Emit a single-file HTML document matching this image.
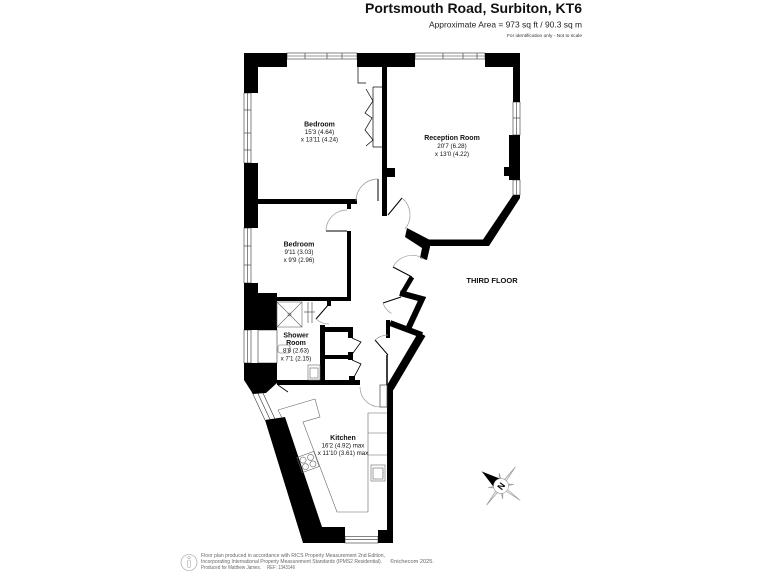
<!DOCTYPE html>
<html>
<head>
<meta charset="utf-8">
<style>
html,body{margin:0;padding:0;background:#fff;}
svg{display:block;}
text{font-family:"Liberation Sans",Arial,sans-serif;}
</style>
</head>
<body>
<svg width="768" height="576" viewBox="0 0 768 576" xmlns="http://www.w3.org/2000/svg">
<rect width="768" height="576" fill="#fff"/>

<!-- Header -->
<text x="582" y="13" text-anchor="end" font-size="14" font-weight="bold" fill="#111">Portsmouth Road, Surbiton, KT6</text>
<text x="582" y="27.7" text-anchor="end" font-size="8.4" fill="#222" textLength="153" lengthAdjust="spacingAndGlyphs">Approximate Area = 973 sq ft / 90.3 sq m</text>
<text x="582" y="37" text-anchor="end" font-size="4.6" fill="#333" textLength="75" lengthAdjust="spacingAndGlyphs">For identification only - Not to scale</text>

<!-- Windows -->
<g fill="#fff" stroke="#333" stroke-width="0.6">
  <rect x="287" y="53" width="70" height="6"/>
  <line x1="287" y1="56" x2="357" y2="56"/>
  <line x1="305" y1="53" x2="305" y2="59"/><line x1="327" y1="53" x2="327" y2="59"/><line x1="342" y1="53" x2="342" y2="59"/>
  <rect x="415" y="53" width="70" height="6"/>
  <line x1="415" y1="56" x2="485" y2="56"/>
  <line x1="443" y1="53" x2="443" y2="59"/><line x1="463" y1="53" x2="463" y2="59"/><line x1="477" y1="53" x2="477" y2="59"/>
  <rect x="244" y="93" width="7" height="70"/>
  <line x1="247.5" y1="93" x2="247.5" y2="163"/>
  <line x1="244" y1="110" x2="251" y2="110"/><line x1="244" y1="133" x2="251" y2="133"/><line x1="244" y1="150" x2="251" y2="150"/>
  <rect x="244" y="228" width="7" height="55"/>
  <line x1="247.5" y1="228" x2="247.5" y2="283"/>
  <line x1="244" y1="246" x2="251" y2="246"/><line x1="244" y1="265" x2="251" y2="265"/>
  <rect x="244" y="330" width="7" height="33"/>
  <line x1="247.5" y1="330" x2="247.5" y2="363"/>
  <rect x="258" y="330" width="19" height="33"/>
  <rect x="513" y="102" width="7" height="33"/>
  <line x1="516.5" y1="102" x2="516.5" y2="135"/>
  <line x1="513" y1="118" x2="520" y2="118"/>
  <rect x="513" y="180" width="7" height="15"/>
  <line x1="516.5" y1="180" x2="516.5" y2="195"/>
  <rect x="345" y="536.5" width="33" height="6.5"/>
  <line x1="345" y1="539.7" x2="378" y2="539.7"/>
  <line x1="252" y1="392" x2="265" y2="420"/>
  <line x1="257" y1="391.5" x2="270" y2="419.5"/>
  <line x1="262" y1="391" x2="275" y2="419"/>
</g>

<!-- Walls -->
<g fill="#000">
  <rect x="244" y="53" width="43" height="14"/>
  <rect x="244" y="53" width="14" height="40"/>
  <rect x="357" y="53" width="58" height="14"/>
  <rect x="485" y="53" width="35" height="14"/>
  <rect x="513" y="53" width="7" height="49"/>
  <rect x="509" y="135" width="11" height="45"/>
  <rect x="504" y="167" width="16" height="9"/>
  <polygon points="513,195 520,195 520,198 489,246 428,246 428,239.5 483,239.5"/>
  <polygon points="407,228 430,240 430,247 427,260 420,258 422,248 405,237"/>
  <rect x="382" y="67" width="5" height="149"/>
  <rect x="387" y="168" width="8" height="9"/>
  <rect x="258" y="199" width="99" height="5"/>
  <rect x="347" y="199" width="4" height="10"/>
  <rect x="347" y="231" width="4" height="70"/>
  <rect x="258" y="297" width="93" height="4"/>
  <rect x="244" y="163" width="14" height="65"/>
  <rect x="244" y="283" width="14" height="12"/>
  <rect x="244" y="293" width="33" height="37"/>
  <polygon points="244,363 277,363 277,383 266,393 253,394 244,380"/>
  <rect x="277" y="380" width="83" height="5"/>
  <rect x="320" y="325" width="5" height="58"/>
  <rect x="320" y="327" width="33" height="5"/>
  <rect x="320" y="355" width="33" height="4"/>
  <rect x="348" y="327" width="5" height="11"/>
  <rect x="348" y="352" width="5" height="8"/>
  <rect x="349" y="376" width="6" height="5"/>
  <rect x="327" y="300" width="4" height="6"/>
  <rect x="387" y="386" width="6" height="157"/>
  <rect x="378" y="530" width="15" height="13"/>
  <polygon points="265,420 285,417 322,527 345,527 345,543 303,543"/>
</g>
<g fill="none" stroke="#000" stroke-linejoin="miter">
  <line x1="412" y1="277" x2="402" y2="294" stroke-width="5"/>
  <polyline points="400,293 422,299 408,329" stroke-width="6"/>
  <line x1="390" y1="323" x2="422" y2="335" stroke-width="6"/>
  <line x1="422" y1="334" x2="390" y2="388" stroke-width="8"/>
  <line x1="388" y1="320" x2="388" y2="338" stroke-width="4"/>
  <line x1="387" y1="355" x2="387" y2="385" stroke-width="1.5"/>
</g>

<!-- Doors -->
<g fill="none" stroke="#555" stroke-width="0.7">
  <line x1="388" y1="215" x2="402" y2="198" stroke="#000" stroke-width="1"/>
  <path d="M402,198 A22,22 0 0,1 405,229" stroke="#999"/>
  <line x1="378" y1="201" x2="378" y2="179" stroke="#000" stroke-width="1"/>
  <path d="M378,179 A22,22 0 0,0 356,201" stroke="#999"/>
  <line x1="326" y1="231" x2="347" y2="231" stroke="#000" stroke-width="1"/>
  <path d="M326,231 A21,21 0 0,1 347,210" stroke="#999"/>
  <line x1="412" y1="277" x2="393" y2="267" stroke="#000" stroke-width="1"/>
  <path d="M393,267 A21.5,21.5 0 0,1 424,259" stroke="#999"/>
  <line x1="401" y1="297" x2="383" y2="303" stroke="#000" stroke-width="1"/>
  <path d="M383,303 A19,19 0 0,0 391.5,313.5" stroke="#999"/>
  <line x1="388" y1="355" x2="375" y2="340" stroke="#000" stroke-width="1"/>
  <path d="M375,340 A20,20 0 0,1 388,335" stroke="#999"/>
  <rect x="380" y="385" width="7" height="22" fill="#fff" stroke="#444"/>
  <path d="M360,387 A20,20 0 0,0 380,407" stroke="#999"/>
  <line x1="329" y1="304" x2="316" y2="319" stroke="#000" stroke-width="1"/>
  <path d="M316,319 A20,20 0 0,0 329,324" stroke="#999"/>
  <polyline points="352,338 361,342 353,353" stroke="#000" stroke-width="0.8"/>
  <polyline points="352,360 361,364 353,379" stroke="#000" stroke-width="0.8"/>
  <line x1="278" y1="385" x2="288" y2="392" stroke="#000" stroke-width="0.8"/>
  <!-- Wardrobe -->
  <polyline points="358,67 358,83 366,83" stroke="#000"/>
  <line x1="373" y1="87" x2="383" y2="87" stroke="#000"/>
  <line x1="373" y1="147" x2="383" y2="147" stroke="#000"/>
  <line x1="373" y1="87" x2="373" y2="147" stroke="#000"/>
  <polyline points="366,89 373,101 365,113 372,118 365,130 373,140 366,146" stroke="#000"/>
  <!-- Shower screen lines -->
  <line x1="308" y1="302" x2="308" y2="323"/>
  <line x1="312" y1="302" x2="312" y2="323"/>
  <line x1="304" y1="312" x2="315" y2="312"/>
</g>

<!-- Fixtures -->
<g fill="none" stroke="#666" stroke-width="0.6">
  <rect x="277" y="302" width="25" height="25" fill="#fff"/>
  <line x1="277" y1="302" x2="302" y2="327"/>
  <line x1="302" y1="302" x2="277" y2="327"/>
  <circle cx="289.5" cy="314.5" r="1.5"/>
  <rect x="278" y="345" width="12" height="8" rx="2"/>
  <rect x="308" y="365" width="12" height="15"/>
  <rect x="310" y="368" width="8" height="10"/>
  <polyline points="278,410 315,399 320,417 303,422 337,512 368,512 368,413 387,413"/>
  <line x1="278" y1="410" x2="282" y2="418"/>
  <line x1="368" y1="433" x2="387" y2="433"/>
  <line x1="368" y1="455" x2="387" y2="455"/>
  <rect x="371" y="465" width="14" height="16"/>
  <rect x="373" y="468" width="10" height="11"/>
  <line x1="383" y1="470" x2="383" y2="477" stroke-dasharray="1,1"/>
  <g transform="translate(308,462) rotate(-20)">
    <rect x="-9" y="-8" width="18" height="16"/>
    <circle cx="-4" cy="-3.5" r="3"/><circle cx="4" cy="-3.5" r="3"/>
    <circle cx="-4" cy="3.5" r="3"/><circle cx="4" cy="3.5" r="3"/>
  </g>
</g>

<!-- Room labels -->
<g fill="#111" text-anchor="middle">
  <text x="319.5" y="126.5" font-size="7" font-weight="bold">Bedroom</text>
  <text x="319.5" y="134" font-size="6.2">15'3 (4.64)</text>
  <text x="319.5" y="141.5" font-size="6.2">x 13'11 (4.24)</text>

  <text x="452" y="140.2" font-size="7" font-weight="bold">Reception Room</text>
  <text x="452" y="147.9" font-size="6.2">20'7 (6.28)</text>
  <text x="452" y="155.9" font-size="6.2">x 13'0 (4.22)</text>

  <text x="299" y="246.5" font-size="7" font-weight="bold">Bedroom</text>
  <text x="299" y="254.2" font-size="6.2">9'11 (3.03)</text>
  <text x="299" y="262.2" font-size="6.2">x 9'9 (2.96)</text>

  <text x="296" y="337.5" font-size="7" font-weight="bold">Shower</text>
  <text x="296" y="345.2" font-size="7" font-weight="bold">Room</text>
  <text x="296" y="352.7" font-size="6.2">8'8 (2.63)</text>
  <text x="296" y="360.5" font-size="6.2">x 7'1 (2.15)</text>

  <text x="343" y="439.8" font-size="7" font-weight="bold">Kitchen</text>
  <text x="343" y="447.3" font-size="6.2">16'2 (4.92) max</text>
  <text x="343" y="455" font-size="6.2">x 11'10 (3.61) max</text>

  <text x="492" y="283.2" font-size="7.5" font-weight="bold">THIRD FLOOR</text>
</g>

<!-- Compass -->
<g transform="translate(501,486) rotate(-53)">
  <polygon points="0,-24 1.5,-3.7 9.2,-9.2 3.7,-1.5 24,0 3.7,1.5 9.2,9.2 1.5,3.7 0,24 -1.5,3.7 -9.2,9.2 -3.7,1.5 -24,0 -3.7,-1.5 -9.2,-9.2 -1.5,-3.7" fill="#fff" stroke="#888" stroke-width="0.5"/>
  <g stroke="#999" stroke-width="0.4">
    <line x1="0" y1="0" x2="24" y2="0"/><line x1="0" y1="0" x2="0" y2="24"/><line x1="0" y1="0" x2="-24" y2="0"/>
    <line x1="0" y1="0" x2="9.2" y2="-9.2"/><line x1="0" y1="0" x2="9.2" y2="9.2"/><line x1="0" y1="0" x2="-9.2" y2="9.2"/><line x1="0" y1="0" x2="-9.2" y2="-9.2"/>
  </g>
  <polygon points="0,-24 -5,-6 5,-6" fill="#000"/>
  <circle cx="0" cy="0" r="7.5" fill="#fff" stroke="#888" stroke-width="0.5"/>
  <text x="0" y="3.3" text-anchor="middle" font-size="9" font-weight="bold" fill="#000">N</text>
</g>

<!-- Footer -->
<g>
  <circle cx="189" cy="562.5" r="8" fill="#fff" stroke="#999" stroke-width="0.6"/>
  <circle cx="189" cy="557.5" r="1.3" fill="none" stroke="#999" stroke-width="0.5"/>
  <rect x="187.6" y="560" width="2.8" height="7.5" rx="1" fill="none" stroke="#999" stroke-width="0.5"/>
</g>
<g fill="#666" font-size="5.4">
  <text x="201" y="557" textLength="184" lengthAdjust="spacingAndGlyphs">Floor plan produced in accordance with RICS Property Measurement 2nd Edition,</text>
  <text x="201" y="563" textLength="181" lengthAdjust="spacingAndGlyphs">Incorporating International Property Measurement Standards (IPMS2 Residential).</text>
  <text x="390" y="563" textLength="44" lengthAdjust="spacingAndGlyphs">©nichecom 2025.</text>
  <text x="201" y="569" textLength="60" lengthAdjust="spacingAndGlyphs">Produced for Matthew James.</text>
  <text x="267" y="569" textLength="28" lengthAdjust="spacingAndGlyphs">REF: 1343146</text>
</g>
</svg>
</body>
</html>
